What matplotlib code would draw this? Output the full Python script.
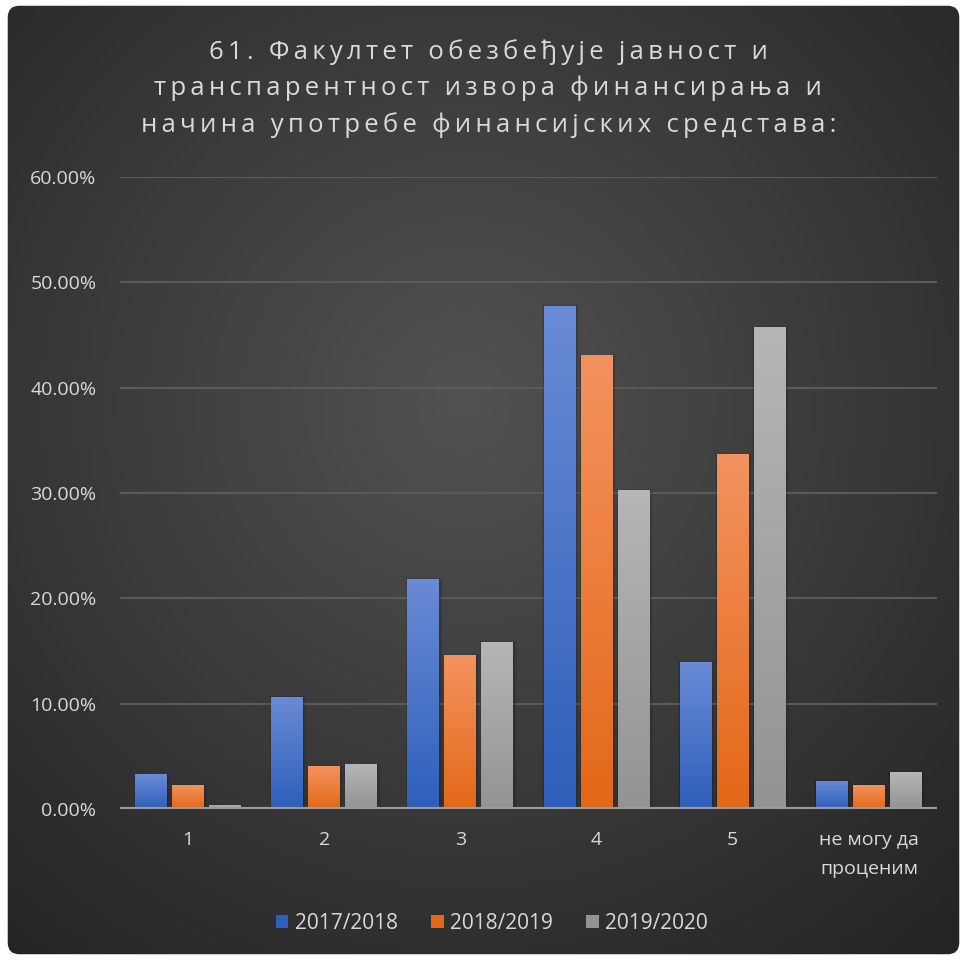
import numpy as np
import matplotlib
matplotlib.use("Agg")
import matplotlib.pyplot as plt
from matplotlib.patches import FancyBboxPatch, Rectangle
from matplotlib.ticker import FuncFormatter

# data (shares)
categories = ["1", "2", "3", "4", "5", "не могу да\nпроценим"]
years = ["2017/2018", "2018/2019", "2019/2020"]
v2017 = [0.0332, 0.1064, 0.2184, 0.4777, 0.1396, 0.0266]
v2018 = [0.0228, 0.0408, 0.1462, 0.4310, 0.3370, 0.0228]
v2019 = [0.0038, 0.0427, 0.1586, 0.3030, 0.4577, 0.0350]
title_lines = ["61. Факултет обезбеђује јавност и",
               "транспарентност извора финансирања и",
               "начина употребе финансијских средстава:"]

# gradient colours top -> bottom
grads = [("#6a8bd6", "#2e5fba"), ("#f39360", "#e36817"), ("#b6b6b6", "#939393")]
txt = "#d9d9d9"

plt.rcParams['font.family'] = ['Open Sans', 'DejaVu Sans']

fig = plt.figure(figsize=(9.67, 9.6), dpi=100, facecolor="white")

# background with radial gradient and rounded border
bg = fig.add_axes([0, 0, 1, 1], zorder=-10)
bg.set_xlim(0, 1)
bg.set_ylim(0, 1)
bg.axis("off")
yy, xx = np.mgrid[0:1:400j, 0:1:400j]
r = np.sqrt((xx - 0.48) ** 2 + (yy - 0.58) ** 2)
shade = np.clip(1 - r / 0.75, 0, 1)
c_out = np.array([0x24, 0x24, 0x24]) / 255
c_in = np.array([0x52, 0x52, 0x52]) / 255
img = c_out + (c_in - c_out) * shade[..., None]
box = FancyBboxPatch((0.008, 0.006), 0.984, 0.988, boxstyle="round,pad=0,rounding_size=0.012",
                     transform=bg.transAxes, facecolor="none", edgecolor="none")
bg.add_patch(box)
im = bg.imshow(img, extent=[0, 1, 0, 1], origin="lower", aspect="auto")
im.set_clip_path(box)

ax = fig.add_axes([120 / 967, 1 - 809 / 960, 817 / 967, (809 - 177) / 960])
ax.set_facecolor("none")
x = np.arange(len(categories))
w = 0.235
off = 0.272
series = [v2017, v2018, v2019]

ramp = np.linspace(0, 1, 256)[:, None]
for i, vals in enumerate(series):
    top, bot = [np.array(matplotlib.colors.to_rgb(c)) for c in grads[i]]
    gimg = bot + (top - bot) * ramp[..., None]
    gimg = np.repeat(gimg, 2, axis=1)
    bars = ax.bar(x + (i - 1) * off, vals, w, color=grads[i][1], zorder=3, label=years[i])
    for b in bars:
        bx, by, bw, bh = b.get_x(), b.get_y(), b.get_width(), b.get_height()
        # soft shadow
        for k, a in enumerate([0.10, 0.07, 0.04]):
            s = 0.012 * (k + 1)
            ax.add_patch(Rectangle((bx - s * 0.3, by), bw + s, bh + s * 0.02,
                                   facecolor="black", alpha=a, edgecolor="none", zorder=2))
        gi = ax.imshow(gimg, extent=[bx, bx + bw, 0, bh], origin="lower", aspect="auto", zorder=4)
        gi.set_clip_path(b)

ax.set_xlim(-0.5, len(categories) - 0.5)
ax.set_ylim(0, 0.6)
ax.set_yticks(np.arange(0, 0.61, 0.1))
ax.yaxis.set_major_formatter(FuncFormatter(lambda v, p: f"{v * 100:.2f}%"))
ax.set_xticks(x)
ax.set_xticklabels(categories, linespacing=1.75)
ax.tick_params(axis="both", length=0, colors=txt)
ax.tick_params(axis="x", pad=16, labelsize=14)
ax.tick_params(axis="y", pad=17, labelsize=14)
ax.grid(axis="y", color="#5a5a5a", linewidth=1.5, zorder=0)
for sp in ax.spines.values():
    sp.set_visible(False)
ax.axhline(0, color="#9a9a9a", linewidth=3, zorder=5)

# title with wide letter tracking (thin spaces between letters)
gap = "\u2009"
title = "\n".join(gap.join(line) for line in title_lines)
fig.text(0.505, 0.908, title, ha="center", va="center", color=txt, fontsize=18.5,
         linespacing=1.56)

leg = ax.legend(loc="center", bbox_to_anchor=(0.455, -0.181), ncol=3, frameon=False,
                fontsize=15, handlelength=0.6, handleheight=0.6, handletextpad=0.3,
                columnspacing=1.6, labelcolor=txt)

fig.savefig("out.png", dpi=100, facecolor="white")
